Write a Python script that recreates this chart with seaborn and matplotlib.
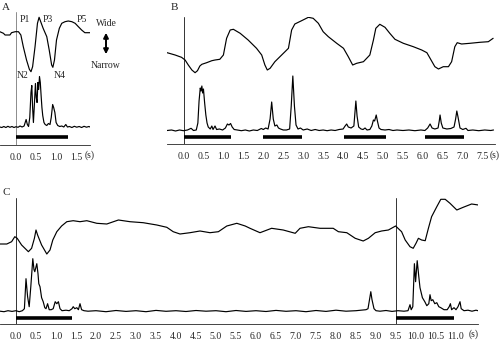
import numpy as np
import matplotlib
matplotlib.use("Agg")
import matplotlib.pyplot as plt
import seaborn as sns

sns.set_style("white")
plt.rcParams["font.family"] = ["Liberation Serif", "DejaVu Serif"]

W, H = 500, 341

# ---------------- data ----------------
# Panel A: upper trace = mouth width relative to pre-stimulus level, lower = activity
a_up_t = [-0.40, -0.31, -0.27, -0.15, -0.11, -0.02, 0.06, 0.12, 0.18, 0.26, 0.33, 0.37, 0.41, 0.47,
          0.53, 0.57, 0.61, 0.67, 0.76, 0.82, 0.88, 0.91, 0.95, 1.00, 1.07, 1.13, 1.21, 1.29, 1.38,
          1.46, 1.54, 1.62, 1.70, 1.83]
a_up_w = [0, -1.6, -3.3, -3.3, -1, 0, 0, -3.3, -15, -28.3, -37.6, -40, -35, -15,
          8.4, 14.4, 10, 3.4, -5, -18.3, -33.3, -35.6, -28.3, -8.3, 3.4, 8.4, 10, 10.7, 10,
          8.4, 5, 1.7, -1, -1]
a_lo_t = [-0.40, -0.35, -0.30, -0.25, -0.20, -0.15, -0.10, -0.05, 0.00, 0.05, 0.10, 0.15, 0.20,
          0.25, 0.28, 0.31, 0.34, 0.37, 0.39, 0.41, 0.43, 0.45, 0.48, 0.50, 0.52, 0.54, 0.56,
          0.58, 0.60, 0.62, 0.64, 0.66, 0.69, 0.72, 0.76, 0.80, 0.84, 0.87, 0.905, 0.93, 0.96,
          0.99, 1.03, 1.08, 1.13, 1.18, 1.23, 1.27, 1.32, 1.38, 1.44, 1.50, 1.56, 1.62, 1.68,
          1.74, 1.80, 1.83]
a_lo_v = [0.5, 0, 1, 0, 1.2, 0.2, 1, 0, 0.8, 0.2, 1.5, 0.5, 1.5,
          8, 3, 1, 10, 35, 42, 20, 5, 20, 44, 30, 25, 45, 38,
          51, 45, 32, 20, 12, 5, 3, 2, 4, 3, 10, 23, 20, 15,
          5, 2, 1, 1.5, 0.5, 3, 0.5, 1, 0, 1.2, 0.3, 1, 0, 1.2,
          0.3, 1, 0.5]
a_bars = [(0.0, 1.28)]

# Panel B
b_up_t = [-0.41, -0.21, -0.05, 0.04, 0.12, 0.21, 0.29, 0.35, 0.41, 0.46, 0.58, 0.71, 0.79, 0.91,
          1.00, 1.08, 1.17, 1.25, 1.42, 1.62, 1.83, 1.96, 2.04, 2.10, 2.17, 2.29, 2.46, 2.63,
          2.71, 2.79, 2.96, 3.13, 3.25, 3.38, 3.50, 3.63, 3.84, 4.01, 4.13, 4.24, 4.34, 4.51,
          4.67, 4.76, 4.82, 4.92, 5.05, 5.17, 5.30, 5.51, 5.76, 5.97, 6.10, 6.18, 6.30, 6.39,
          6.51, 6.64, 6.72, 6.80, 6.86, 6.97, 7.18, 7.43, 7.64, 7.76]
b_up_w = [7.3, 5, 2.7, 0, -5, -10, -12.7, -10.7, -6, -4.3, -2.7, -0.7, 0, 0.7,
          5, 21.7, 30, 30.7, 26.7, 20, 11.7, 5, -5, -10, -8.3, -1.7, 5, 11.7,
          30, 36, 39.3, 42.7, 41.7, 36.7, 28.3, 23.3, 16.7, 11.7, 3.3, -5, -3.3, -1.7,
          5, 20, 31.7, 35.7, 32.7, 26.7, 20.7, 16.7, 13.3, 10, 7.3, 1.7, -6.7, -9,
          -6.7, -6.7, -1.7, 13.3, 17.3, 16, 16.7, 17.7, 18.3, 21.7]
b_lo_t = [-0.41, -0.30, -0.20, -0.10, 0.00, 0.10, 0.19, 0.25, 0.32, 0.36, 0.39, 0.42, 0.44, 0.46,
          0.48, 0.50, 0.53, 0.56, 0.59, 0.62, 0.67, 0.71, 0.74, 0.79, 0.83, 0.90, 0.98, 1.05,
          1.10, 1.14, 1.18, 1.22, 1.27, 1.35, 1.45, 1.55, 1.65, 1.75, 1.85, 1.95, 2.00, 2.06,
          2.12, 2.17, 2.21, 2.25, 2.29, 2.34, 2.38, 2.43, 2.50, 2.58, 2.66, 2.70, 2.74, 2.78,
          2.82, 2.87, 2.93, 3.00, 3.10, 3.20, 3.30, 3.40, 3.50, 3.60, 3.70, 3.80, 3.90, 4.00,
          4.05, 4.09, 4.13, 4.20, 4.27, 4.30, 4.32, 4.35, 4.39, 4.45, 4.50, 4.55, 4.60, 4.67,
          4.72, 4.76, 4.79, 4.83, 4.86, 4.90, 4.95, 5.05, 5.15, 5.25, 5.35, 5.50, 5.65, 5.80,
          5.95, 6.05, 6.12, 6.18, 6.23, 6.30, 6.38, 6.41, 6.43, 6.46, 6.50, 6.60, 6.70, 6.78,
          6.82, 6.85, 6.88, 6.93, 7.00, 7.08, 7.13, 7.25, 7.40, 7.55, 7.70, 7.77]
b_lo_v = [0.5, 1, 0, 1, 0.3, 1, 2.7, 0.5, 1, 8, 30, 43, 40, 45,
          38, 42, 28, 16, 8, 4, 2, 5, 1.5, 5, 1.5, 2, 1, 3,
          7, 6, 7.5, 4, 1.5, 1, 0.3, 1, 0, 1, 0.5, 2.5, 1.5, 3,
          2, 12, 29, 12, 5, 6, 3, 2, 1, 1, 2, 25, 55, 25,
          6, 2, 3, 1, 2, 0.5, 1.5, 0.5, 1, 0.3, 1, 0.5, 1.5, 2,
          5, 7, 4, 3, 5, 20, 30, 15, 4, 2, 1.5, 3, 1, 1.5,
          5, 11, 10, 16, 10, 3, 1.5, 1, 1.5, 0.5, 1, 0.5, 1, 0.3,
          1, 0.5, 3, 7, 3, 2, 3, 10, 16, 8, 3, 2, 2.5, 4,
          12, 20, 14, 3, 1.5, 2.7, 0.5, 1, 0.3, 1, 0.5, 1]
b_bars = [(0.0, 1.2), (2.0, 2.97), (4.02, 5.07), (6.05, 7.03)]

# Panel C
c_up_t = [-0.40, -0.23, -0.11, -0.03, 0.03, 0.14, 0.31, 0.39, 0.46, 0.50, 0.54, 0.64, 0.77, 0.85,
          0.92, 1.02, 1.14, 1.27, 1.43, 1.60, 1.77, 2.02, 2.27, 2.56, 2.85, 3.18, 3.52, 3.77,
          3.93, 4.10, 4.35, 4.60, 4.85, 5.06, 5.27, 5.52, 5.73, 5.85, 6.10, 6.39, 6.68, 6.98,
          7.10, 7.31, 7.60, 7.93, 8.06, 8.27, 8.48, 8.68, 8.81, 8.98, 9.14, 9.31, 9.49, 9.64,
          9.73, 9.85, 9.93, 10.00, 10.06, 10.14, 10.23, 10.31, 10.39, 10.52, 10.62, 10.73,
          10.85, 11.02, 11.18, 11.39, 11.56]
c_up_w = [0, 0, 2.3, 7.3, 5.7, -1, -7.7, -4.3, 5.7, 14, 9, -1, -10, -6,
          4, 12.3, 18, 22.3, 23.3, 22.3, 23.3, 20.7, 20, 24, 22.3, 21.3, 19, 16.7,
          12.3, 10, 11.3, 13, 11.3, 12.3, 18, 20.7, 18, 15.7, 11.3, 15.7, 14, 10.7,
          15.7, 17.3, 15.7, 15.7, 12.3, 11.3, 5.7, 3, 5.7, 11.3, 13, 14, 18, 12.3,
          4, -2.7, -4.3, 0.7, 5.7, 4, 3.3, 15.7, 27.3, 37.3, 44.7, 44.7,
          40.7, 34, 36.7, 40, 39]
c_lo_t = [-0.40, -0.30, -0.20, -0.10, 0.00, 0.08, 0.16, 0.21, 0.25, 0.29, 0.33, 0.37, 0.42, 0.45,
          0.47, 0.52, 0.55, 0.57, 0.60, 0.64, 0.68, 0.72, 0.75, 0.79, 0.83, 0.88, 0.93, 0.98,
          1.02, 1.06, 1.10, 1.15, 1.25, 1.33, 1.40, 1.43, 1.47, 1.52, 1.56, 1.60, 1.64, 1.70,
          1.80, 2.00, 2.25, 2.50, 2.75, 3.00, 3.25, 3.50, 3.75, 4.00, 4.25, 4.50, 4.75, 5.00,
          5.25, 5.50, 5.75, 6.00, 6.25, 6.50, 6.75, 7.00, 7.25, 7.50, 7.75, 8.00, 8.25, 8.50,
          8.75, 8.80, 8.85, 8.87, 8.90, 8.95, 9.00, 9.10, 9.25, 9.40, 9.55, 9.70, 9.80, 9.85,
          9.88, 9.92, 9.96, 9.99, 10.03, 10.07, 10.10, 10.16, 10.22, 10.27, 10.32, 10.35,
          10.38, 10.42, 10.47, 10.52, 10.57, 10.62, 10.70, 10.78, 10.83, 10.86, 10.89, 10.95,
          11.00, 11.05, 11.10, 11.13, 11.20, 11.30, 11.40, 11.50, 11.55]
c_lo_v = [0.5, 0, 1, 0.3, 1, 0, 1, 3, 33, 15, 5, 25, 53, 42,
          40, 48, 38, 28, 25, 14, 10, 4, 3, 8, 2, 2, 3, 10,
          8, 10, 3, 1, 1.5, 1, 3, 5, 3, 4, 2, 8, 2, 1,
          0.5, 1, 0, 1.2, 0.3, 1, 0, 1.3, 0.4, 1, 0.2, 1.2, 0.5, 1,
          0, 1.2, 0.3, 1, 0.2, 1.3, 0.4, 1, 0, 1.2, 0.3, 1.5, 0.5, 1,
          2, 3, 15, 20, 12, 3, 1, 0.5, 1.2, 0.3, 1, 0.5, 1, 7,
          2, 5, 48, 30, 51, 35, 24, 14, 10, 6, 8, 17,
          11, 12, 8, 9, 5, 4, 2, 2, 5, 8, 2, 4,
          2, 5, 10, 3, 1, 1.5, 0.5, 1.5, 1]
c_bars = [(0.0, 1.39), (9.5, 10.94)]

tick_labels_a = ["0.0", "0.5", "1.0", "1.5"]
tick_labels_b = ["0.0", "0.5", "1.0", "1.5", "2.0", "2.5", "3.0", "3.5", "4.0", "4.5", "5.0",
                 "5.5", "6.0", "6.5", "7.0", "7.5"]
tick_labels_c = ["0.0", "0.5", "1.0", "1.5", "2.0", "2.5", "3.0", "3.5", "4.0", "4.5", "5.0",
                 "5.5", "6.0", "6.5", "7.0", "7.5", "8.0", "8.5", "9.0", "9.5", "10.0", "10.5",
                 "11.0"]

fig = plt.figure(figsize=(W / 100, H / 100), dpi=100)


def fig_xy(x, y):
    return x / W, 1 - y / H


def make_panel(x0, scale, xlim, top, bottom, labels, onsets, vline_color):
    left = (x0 + xlim[0] * scale) / W
    width = (xlim[1] - xlim[0]) * scale / W
    ax = fig.add_axes([left, (H - bottom) / H, width, (bottom - top) / H])
    ax.set_xlim(*xlim)
    ax.set_ylim(0, bottom - top)
    for s in ["top", "right", "left"]:
        ax.spines[s].set_visible(False)
    ax.spines["bottom"].set_linewidth(0.6)
    ax.set_yticks([])
    major = [float(l) for l in labels]
    ax.set_xticks(major)
    ax.set_xticklabels(labels, fontsize=7)
    minor = np.round(np.arange(np.ceil(xlim[0] * 10) / 10, xlim[1] + 1e-6, 0.1), 1)
    ax.set_xticks(minor, minor=True)
    ax.tick_params(axis="x", which="major", length=4, width=0.6, pad=1.5, direction="out")
    ax.tick_params(axis="x", which="minor", length=2.6, width=0.5, direction="out")
    for t0 in onsets:
        ax.axvline(t0, color=vline_color, lw=0.7)
    return ax


def draw(ax, t_up, w_up, up_off, t_lo, v_lo, lo_off, bars, bar_y):
    sns.lineplot(x=t_up, y=np.array(w_up) + up_off, ax=ax, color="black", linewidth=0.85,
                 estimator=None, sort=False)
    sns.lineplot(x=t_lo, y=np.array(v_lo) + lo_off, ax=ax, color="black", linewidth=0.85,
                 estimator=None, sort=False)
    for s, e in bars:
        ax.plot([s, e], [bar_y, bar_y], color="black", lw=2.6, solid_capstyle="butt")


# Panel A
ax_a = make_panel(16, 40.5, (-0.4, 1.83), 12, 145, tick_labels_a, [0.0], "#8c8c8c")
draw(ax_a, a_up_t, a_up_w, 113.3, a_lo_t, a_lo_v, 17.5, a_bars, 7.5)

# Panel B
ax_b = make_panel(183.5, 39.9, (-0.42, 7.8), 17, 144, tick_labels_b, [0.0], "#333333")
draw(ax_b, b_up_t, b_up_w, 84, b_lo_t, b_lo_v, 13, b_bars, 7.3)

# Panel C
ax_c = make_panel(16, 40, (-0.4, 11.56), 198, 324, tick_labels_c, [0.0, 9.5], "#333333")
draw(ax_c, c_up_t, c_up_w, 80, c_lo_t, c_lo_v, 12.3, c_bars, 5.7)

# panel letters, units, annotations
for txt, x, y in [("A", 6, 7), ("B", 174, 7), ("C", 6, 192)]:
    fig.text(*fig_xy(x, y), txt, fontsize=8, ha="center", va="center")
for x, y in [(90, 155), (495, 155), (474, 334)]:
    fig.text(*fig_xy(x, y), "(s)", fontsize=7, ha="center", va="center")
for txt, x, y in [("P1", 25, 19), ("P3", 48, 19), ("P5", 82, 19), ("N2", 23, 76), ("N4", 60, 76)]:
    fig.text(*fig_xy(x, y), txt, fontsize=7, ha="center", va="center")
fig.text(*fig_xy(106, 23), "Wide", fontsize=7, ha="center", va="center")
fig.text(*fig_xy(106, 66), "Narrow", fontsize=7, ha="center", va="center")
fig.add_artist(matplotlib.patches.FancyArrowPatch(
    fig_xy(106, 30), fig_xy(106, 57), transform=fig.transFigure,
    arrowstyle="<|-|>", mutation_scale=7, lw=1.4, color="black"))

fig.savefig("out.png", dpi=100)
